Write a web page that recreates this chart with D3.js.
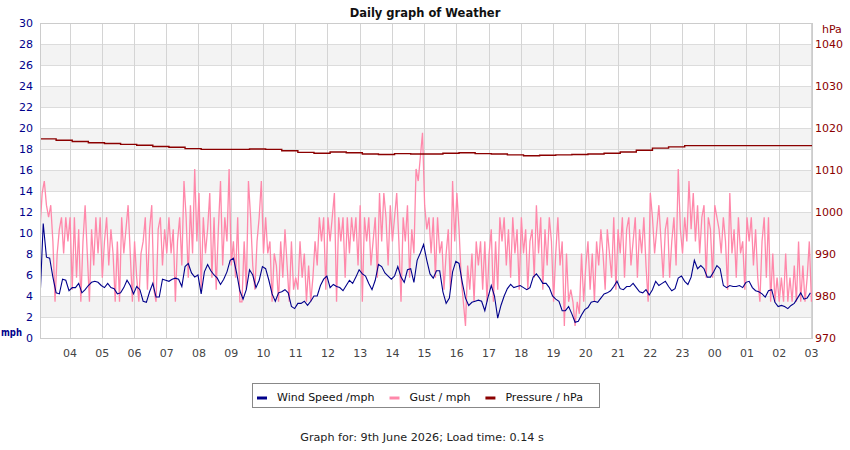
<!DOCTYPE html>
<html><head><meta charset="utf-8">
<script src="https://cdn.jsdelivr.net/npm/d3@7"></script>
<style>body{margin:0;background:#fff}svg{display:block;font-family:"DejaVu Sans",sans-serif}</style>
</head><body><svg id="c" width="850" height="450"></svg>
<script>
const chartTitle = "Daily graph of Weather";
const footerText = "Graph for: 9th June 2026; Load time: 0.14 s";
const startTime = new Date(2026, 5, 8, 3, 5);
const endTime = new Date(2026, 5, 9, 3, 2);
const windStepMinutes = 6, gustStepMinutes = 4, pressureStepMinutes = 30;

const windSpeed = [
3.6,10.9,7.7,7.6,5.8,4.3,4.2,5.6,5.5,4.5,
4.8,4.8,5.2,4.3,4.6,5.0,5.3,5.4,5.3,5.0,
4.8,5.2,4.8,4.7,4.2,4.3,4.8,5.5,5.0,4.2,
4.9,4.6,3.5,3.4,4.4,5.2,3.9,3.9,5.6,5.5,
5.4,5.6,5.7,5.6,4.9,6.8,7.1,6.2,5.8,6.0,
4.2,6.3,7.0,6.4,6.0,5.7,5.1,5.6,6.3,7.4,
7.6,6.2,4.5,3.7,4.6,6.5,6.0,4.8,5.5,6.8,
6.6,5.5,4.2,3.5,4.3,4.4,4.6,4.3,3.0,2.8,
3.3,3.3,3.5,3.1,3.5,4.0,4.0,5.0,5.6,5.9,
4.8,5.1,4.9,4.8,4.5,5.0,5.5,5.2,5.8,6.5,
6.1,5.9,5.2,4.6,5.5,7.0,6.8,6.2,5.9,5.6,
5.9,6.8,5.8,5.3,6.5,6.6,5.3,7.4,8.1,8.9,
7.4,6.1,5.7,6.4,6.4,4.4,3.3,3.8,6.3,7.3,
7.1,5.3,3.8,3.1,3.4,3.5,3.6,3.5,2.6,3.9,
5.0,4.0,1.9,3.1,4.0,4.7,5.1,4.8,4.9,5.0,
4.8,4.6,4.8,5.8,6.1,5.7,5.2,5.2,4.8,4.0,
3.7,3.5,2.6,2.6,3.0,2.3,1.5,1.6,2.2,2.7,
2.9,3.4,3.5,3.4,3.8,4.2,4.3,4.5,4.9,5.4,
4.7,4.6,4.9,4.9,5.2,4.8,4.4,4.3,4.6,4.1,
4.6,5.4,5.0,5.2,5.4,4.9,4.5,4.7,5.7,5.9,
5.4,5.1,5.8,7.4,6.6,6.9,6.6,5.8,5.8,6.3,
6.9,6.6,5.0,4.8,5.0,4.9,4.9,5.0,4.8,5.3,
5.4,4.8,4.5,4.4,4.2,3.9,4.5,4.6,3.4,3.0,
3.1,3.0,2.8,3.1,3.3,3.8,4.3,3.7,3.8,4.3
];

const gust = [
10.35,13.8,14.95,12.65,11.5,12.65,9.2,3.45,8.05,10.35,11.5,8.05,11.5,9.2,11.5,
4.6,11.5,5.75,10.35,3.45,9.2,12.65,8.05,3.45,10.35,6.9,11.5,8.05,11.5,5.75,
9.2,11.5,6.9,10.35,8.05,3.45,9.2,3.45,11.5,8.05,10.35,12.65,8.05,3.45,9.2,
5.75,3.45,8.05,9.2,11.5,4.6,10.35,12.65,4.6,3.45,10.35,11.5,6.9,10.35,8.05,
11.5,8.05,10.35,3.45,9.2,11.5,6.9,14.95,11.5,5.75,12.65,8.05,16.1,9.2,13.8,
4.6,11.5,8.05,10.35,13.8,5.75,11.5,4.6,10.35,14.95,6.9,11.5,9.2,16.1,6.9,
9.2,5.75,11.5,3.45,3.45,9.2,4.6,14.95,11.5,6.9,4.6,9.2,11.5,14.95,8.05,
11.5,8.05,9.2,3.45,8.05,6.9,3.45,9.2,5.75,10.35,6.9,3.45,9.2,4.6,5.75,
4.6,9.2,5.75,8.05,3.45,6.9,3.45,5.75,9.2,6.9,11.5,9.2,11.5,4.6,11.5,
9.2,11.5,13.8,3.45,11.5,9.2,11.5,5.75,11.5,8.05,11.5,9.2,11.5,6.9,12.65,
3.45,11.5,9.2,11.5,6.9,9.2,11.5,5.75,13.8,9.2,13.8,11.5,6.9,12.65,9.2,
11.5,13.8,9.2,3.45,11.5,9.2,12.65,5.75,10.35,8.05,16.1,14.95,17.25,19.55,12.65,
10.35,11.5,8.05,11.5,5.75,11.5,8.05,9.2,4.6,8.05,10.35,4.6,14.95,9.2,13.8,
10.35,5.75,3.45,1.15,6.9,4.6,8.05,3.45,9.2,6.9,9.2,4.6,9.2,3.45,8.05,
10.35,3.45,9.2,4.6,11.5,9.2,11.5,6.9,10.35,5.75,11.5,8.05,10.35,4.6,11.5,
8.05,10.35,4.6,9.2,10.35,5.75,12.65,8.05,11.5,4.6,10.35,6.9,11.5,9.2,3.45,
8.05,11.5,6.9,9.2,1.15,8.05,3.45,4.6,3.45,1.15,3.45,2.3,8.05,3.45,6.9,
9.2,4.6,8.05,3.45,9.2,6.9,10.35,8.05,4.6,10.35,8.05,5.75,11.5,4.6,10.35,
8.05,11.5,5.75,10.35,11.5,6.9,9.2,11.5,5.75,10.35,8.05,11.5,6.9,3.45,13.8,
11.5,8.05,10.35,12.65,9.2,5.75,10.35,11.5,5.75,9.2,11.5,6.9,16.1,10.35,8.05,
11.5,9.2,14.95,10.35,13.8,9.2,12.65,8.05,11.5,12.65,5.75,11.5,10.35,5.75,12.65,
11.5,10.35,8.05,11.5,9.2,4.6,13.8,8.05,10.35,5.75,11.5,8.05,9.2,4.6,11.5,
9.2,11.5,6.9,10.35,5.75,3.45,9.2,11.5,5.75,11.5,3.45,8.05,3.45,5.75,3.45,
5.75,3.45,8.05,3.45,5.75,3.45,6.9,3.45,9.2,3.45,6.9,3.45,5.75,9.2,3.45
];

const pressure = [
1017.4,1017.1,1016.8,1016.5,1016.3,1016.1,1015.9,1015.6,1015.4,1015.1,
1014.9,1014.9,1014.9,1015.0,1014.9,1014.6,1014.2,1014.0,1014.3,1014.1,
1013.8,1013.7,1013.9,1013.8,1013.8,1014.0,1014.1,1013.9,1013.8,1013.6,
1013.4,1013.5,1013.6,1013.7,1013.8,1014.0,1014.3,1014.7,1015.2,1015.5,
1015.8,1015.8,1015.8,1015.8,1015.8,1015.8,1015.8,1015.8,1015.6
];

const mphTicks = [0,2,4,6,8,10,12,14,16,18,20,22,24,26,28,30];
const hpaTicks = [970,980,990,1000,1010,1020,1030,1040];
const legendLabels = ["Wind Speed /mph", "Gust / mph", "Pressure / hPa"];
const legendColors = ["#00008b", "#ff88aa", "#8b0000"];

const svg = d3.select("#c");
const L = 40, R = 812, T = 23, B = 338;
const x = d3.scaleTime().domain([startTime, endTime]).range([L, R]);
const y = d3.scaleLinear().domain([0, 30]).range([B, T]);
const yP = d3.scaleLinear().domain([970, 1045]).range([B, T]);
const tAt = (i, step) => d3.timeMinute.offset(startTime, i * step);

// title
svg.append("text").attr("x", 425).attr("y", 17).attr("text-anchor", "middle")
  .attr("font-size", 11.5).attr("font-weight", "bold").attr("fill", "#111").text(chartTitle);

// bands
const bandStarts = mphTicks.filter(v => v < 30 && (v / 2) % 2 === 1);
svg.append("g").selectAll("rect").data(bandStarts).join("rect")
  .attr("x", L).attr("width", R - L)
  .attr("y", d => y(d + 2)).attr("height", d => y(d) - y(d + 2))
  .attr("fill", "#f3f3f3");

// horizontal grid
svg.append("g").selectAll("line").data(mphTicks).join("line")
  .attr("x1", L).attr("x2", R)
  .attr("y1", d => Math.round(y(d)) + 0.5).attr("y2", d => Math.round(y(d)) + 0.5)
  .attr("stroke", "#dcdcdc");

// vertical grid
const hourTicks = x.ticks(d3.timeHour.every(1));
svg.append("g").selectAll("line").data(hourTicks).join("line")
  .attr("x1", d => Math.round(x(d)) + 0.5).attr("x2", d => Math.round(x(d)) + 0.5)
  .attr("y1", T).attr("y2", B)
  .attr("stroke", "#d4d4d4");

// frame
svg.append("rect").attr("x", L + 0.5).attr("y", T + 0.5).attr("width", R - L).attr("height", B - T)
  .attr("fill", "none").attr("stroke", "#cccccc");

// clip
svg.append("clipPath").attr("id", "plotclip").append("rect")
  .attr("x", L + 1).attr("y", T).attr("width", R - L - 1).attr("height", B - T);
const plot = svg.append("g").attr("clip-path", "url(#plotclip)");

plot.append("path").datum(gust)
  .attr("fill", "none").attr("stroke", legendColors[1]).attr("stroke-width", 1.3)
  .attr("d", d3.line().x((d, i) => x(tAt(i, gustStepMinutes))).y(d => y(d)));

plot.append("path").datum(windSpeed)
  .attr("fill", "none").attr("stroke", legendColors[0]).attr("stroke-width", 1.1)
  .attr("d", d3.line().x((d, i) => x(tAt(i, windStepMinutes))).y(d => y(d)));

plot.append("path").datum(pressure)
  .attr("fill", "none").attr("stroke", legendColors[2]).attr("stroke-width", 1.4)
  .attr("d", d3.line().curve(d3.curveStepAfter).x((d, i) => x(tAt(i, pressureStepMinutes))).y(d => yP(d)));

// axes
const axL = svg.append("g").attr("transform", `translate(${L},0)`)
  .call(d3.axisLeft(y).tickValues(mphTicks).tickSize(0).tickPadding(7));
axL.select(".domain").remove();
axL.selectAll("text").attr("font-size", 11).attr("fill", "#00008b").attr("font-family", "DejaVu Sans");

const axR = svg.append("g").attr("transform", `translate(${R},0)`)
  .call(d3.axisRight(yP).tickValues(hpaTicks).tickSize(0).tickPadding(3).tickFormat(d3.format("d")));
axR.select(".domain").remove();
axR.selectAll("text").attr("font-size", 11).attr("fill", "#8b0000").attr("font-family", "DejaVu Sans");

const axB = svg.append("g").attr("transform", `translate(0,${B})`)
  .call(d3.axisBottom(x).tickValues(hourTicks).tickSize(0).tickPadding(11).tickFormat(d3.timeFormat("%H")));
axB.select(".domain").remove();
axB.selectAll("text").attr("font-size", 11).attr("fill", "#444").attr("font-family", "DejaVu Sans");

svg.append("text").attr("x", 1).attr("y", 336).attr("font-size", 10.5).attr("font-weight", "bold")
  .attr("font-family", "DejaVu Sans Condensed").attr("font-stretch", "condensed")
  .attr("textLength", 21).attr("lengthAdjust", "spacingAndGlyphs")
  .attr("fill", "#00008b").text("mph");
svg.append("text").attr("x", 822).attr("y", 33).attr("font-size", 11)
  .attr("fill", "#8b0000").text("hPa");

// legend
const lg = svg.append("g");
lg.append("rect").attr("x", 252.5).attr("y", 383.5).attr("width", 347).attr("height", 24)
  .attr("fill", "#fff").attr("stroke", "#888");
let lx = 257;
legendLabels.forEach((lab, k) => {
  lg.append("line").attr("x1", lx).attr("x2", lx + 10).attr("y1", 398).attr("y2", 398)
    .attr("stroke", legendColors[k]).attr("stroke-width", 3);
  const t = lg.append("text").attr("x", lx + 20).attr("y", 401).attr("font-size", 11)
    .attr("fill", "#111").text(lab);
  lx = lx + 20 + t.node().getComputedTextLength() + 15;
});

// footer
svg.append("text").attr("x", 422).attr("y", 441).attr("text-anchor", "middle")
  .attr("font-size", 11.2).attr("fill", "#222").text(footerText);
</script>
</body></html>
